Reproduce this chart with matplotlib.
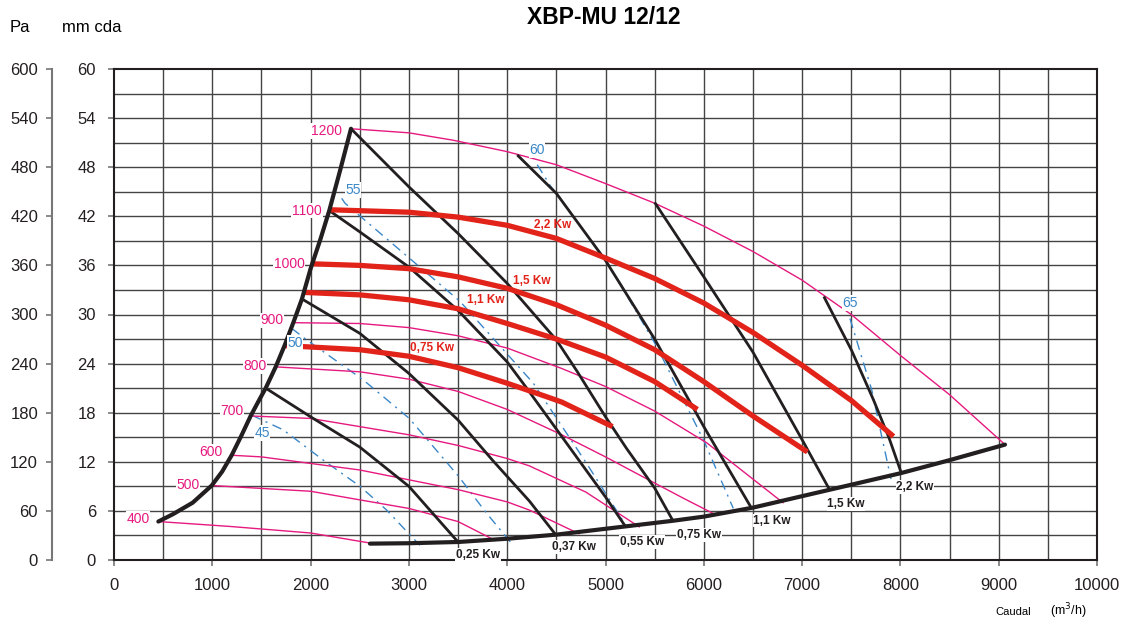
import numpy as np
import matplotlib
matplotlib.use("Agg")
import matplotlib.pyplot as plt

plt.rcParams['font.family'] = ['Liberation Sans', 'DejaVu Sans']

# Colours taken from the chart
BLACK = '#231f20'
PINK = '#e6197f'
RED = '#e2231a'
BLUE = '#3a87c8'

# Operating limits (thick black): left surge line and bottom system curve
left_q = [451, 600, 800, 994, 1100, 1197, 1300, 1390, 1470, 1543, 1645, 1735, 1824, 1912,
          2000, 2100, 2190, 2300, 2411]
left_p = [4.7, 5.6, 7.0, 9.1, 10.8, 12.8, 15.3, 17.6, 19.4, 21.0, 23.6, 26.2, 29.0, 31.9,
          35.6, 39.2, 42.7, 47.6, 52.7]
bottom_q = [2604, 3000, 3500, 4000, 4500, 5200, 5690, 6000, 6500, 7000, 7500, 8000, 8500, 9064]
bottom_p = [2.0, 2.05, 2.2, 2.6, 3.1, 4.1, 4.8, 5.3, 6.4, 7.8, 9.2, 10.6, 12.2, 14.1]

# Motor power lines (black) ending on the bottom curve
motor_labels = ['0,25 Kw', '0,37 Kw', '0,55 Kw', '0,75 Kw', '1,1 Kw', '1,5 Kw', '2,2 Kw']
motor_q = [
    [1543, 2000, 2500, 3000, 3500],
    [1912, 2500, 3000, 3500, 3850, 4226, 4493],
    [2190, 2500, 3000, 3500, 4000, 4186, 4500, 5000, 5203],
    [2411, 3000, 3500, 4000, 4500, 4714, 5000, 5216, 5500, 5686],
    [4102, 4500, 5000, 5500, 6000, 6482],
    [5500, 6000, 6500, 7000, 7279],
    [7221, 7504, 7725, 7885, 8010],
]
motor_p = [
    [21.0, 17.5, 13.8, 9.0, 2.2],
    [31.9, 27.7, 22.8, 17.1, 12.2, 7.2, 3.1],
    [42.7, 40.1, 35.8, 30.5, 24.2, 21.2, 16.0, 7.7, 4.1],
    [52.7, 45.6, 39.9, 33.8, 26.9, 23.0, 17.5, 13.6, 8.8, 4.8],
    [49.5, 44.8, 36.6, 27.0, 16.3, 6.4],
    [43.7, 34.6, 25.4, 14.7, 8.6],
    [32.2, 25.6, 19.6, 14.9, 10.6],
]

# Fan curves at motor power (red)
red_labels = ['0,75 Kw', '1,1 Kw', '1,5 Kw', '2,2 Kw']
red_q = [
    [1735, 2500, 3000, 3500, 4000, 4390, 4555, 5071],
    [1936, 2500, 3000, 3500, 4000, 4500, 5000, 5500, 5935],
    [2001, 2500, 3000, 3500, 4000, 4500, 5000, 5500, 6000, 6500, 7054],
    [2190, 3000, 3500, 4000, 4500, 5000, 5500, 6000, 6500, 7000, 7500, 7930],
]
red_p = [
    [26.2, 25.7, 24.9, 23.5, 21.6, 20.0, 19.3, 16.3],
    [32.7, 32.4, 31.8, 30.7, 28.9, 27.0, 24.8, 21.8, 18.4],
    [36.2, 36.0, 35.6, 34.6, 33.2, 31.2, 28.7, 25.7, 21.8, 17.6, 13.2],
    [42.8, 42.5, 41.9, 40.9, 39.3, 36.9, 34.4, 31.4, 27.8, 23.8, 19.5, 15.1],
]

# Speed curves (pink), rpm
rpm_labels = ['400', '500', '600', '700', '800', '900', '1200']
rpm_q = [
    [451, 1180, 2000, 2640],
    [994, 2000, 3000, 3500, 3876],
    [1197, 1500, 2500, 3500, 4000, 4226, 4731],
    [1390, 2000, 3000, 3500, 4000, 4226, 4800, 5343],
    [1645, 2500, 3000, 3500, 4000, 4555, 5000, 5500, 5800, 6126],
    [1824, 2500, 3000, 3500, 4000, 4555, 5000, 5500, 6032, 6806],
    [2411, 3000, 3449, 4000, 4500, 5000, 5500, 6000, 6500, 7000, 7500, 8000, 8500, 9064],
]
rpm_p = [
    [4.7, 4.1, 3.3, 2.0],
    [9.1, 8.4, 6.3, 4.7, 2.4],
    [12.8, 12.6, 11.0, 8.6, 7.1, 6.1, 3.2],
    [17.6, 17.3, 15.3, 14.0, 12.4, 11.5, 8.3, 4.05],
    [23.6, 23.0, 22.1, 20.6, 18.4, 15.3, 12.6, 9.4, 7.5, 5.5],
    [29.0, 28.9, 28.4, 27.4, 25.9, 23.4, 21.2, 18.2, 14.3, 7.0],
    [52.7, 52.2, 51.3, 49.9, 48.3, 46.0, 43.6, 40.8, 37.7, 34.2, 30.0, 25.0, 20.2, 14.1],
]

# Efficiency lines (blue dash-dot), %
eff_labels = ['45', '50', '55', '60', '65']
eff_q = [
    [1401, 1722, 2129, 2503, 2774, 3028, 3113],
    [1808, 1960, 2536, 3004, 3507, 3791, 4046],
    [2316, 2350, 3520, 4266, 4808, 5215],
    [4306, 4435, 5012, 5521, 6000, 6300],
    [7487, 7708, 7810, 7904],
]
eff_p = [
    [17.7, 15.9, 12.2, 9.0, 6.1, 2.85, 1.8],
    [28.3, 26.9, 22.0, 17.3, 10.2, 5.7, 2.0],
    [44.2, 43.6, 31.6, 21.6, 11.8, 4.1],
    [48.3, 45.8, 36.5, 26.1, 14.6, 6.3],
    [29.5, 20.8, 15.1, 9.9],
]

fig = plt.figure(figsize=(11.3, 6.22), dpi=100)
ax = fig.add_axes([114 / 1130, 62 / 622, 983 / 1130, 491 / 622])

ax.set_xlim(0, 10000)
ax.set_ylim(0, 60)

# grid
for xv in np.arange(500, 10000, 500):
    ax.axvline(xv, color='#444444', lw=1.0, zorder=1)
for yv in np.arange(3, 60, 3):
    ax.axhline(yv, color='#444444', lw=1.0, zorder=1)

# efficiency lines
for q, p in zip(eff_q, eff_p):
    ax.plot(q, p, color=BLUE, lw=1.0, ls=(0, (7, 4, 1.5, 4)), zorder=2)

# rpm curves
for q, p in zip(rpm_q, rpm_p):
    ax.plot(q, p, color=PINK, lw=1.0, zorder=3)

# motor lines
for q, p in zip(motor_q, motor_p):
    ax.plot(q, p, color=BLACK, lw=2.0, zorder=4, solid_capstyle='butt', solid_joinstyle='round')

# red power curves
for q, p in zip(red_q, red_p):
    ax.plot(q, p, color=RED, lw=3.8, zorder=5, solid_capstyle='butt', solid_joinstyle='round')

# limits
ax.plot(left_q, left_p, color=BLACK, lw=3.0, zorder=6, solid_capstyle='round', solid_joinstyle='round')
ax.plot(bottom_q, bottom_p, color=BLACK, lw=3.0, zorder=6, solid_capstyle='round', solid_joinstyle='round')

# labels
box = dict(facecolor='white', edgecolor='none', pad=0.5)
rpm_text = [('400', 244, 5.0), ('500', 753, 9.2), ('600', 987, 13.2), ('700', 1200, 18.2),
            ('800', 1434, 23.7), ('900', 1607, 29.3), ('1000', 1780, 36.2),
            ('1100', 1963, 42.7), ('1200', 2157, 52.4)]
for s, x, y in rpm_text:
    ax.text(x, y, s, color=PINK, fontsize=10, ha='center', va='center', bbox=box, zorder=8)

eff_text = [('45', 1506, 15.5), ('50', 1841, 26.5), ('55', 2431, 45.2),
            ('60', 4303, 50.1), ('65', 7487, 31.4)]
for s, x, y in eff_text:
    ax.text(x, y, s, color=BLUE, fontsize=10, ha='center', va='center', bbox=box, zorder=8)

red_pos = [(3235, 25.9), (3784, 31.8), (4252, 34.1), (4466, 40.9)]
for s, (x, y) in zip(red_labels, red_pos):
    ax.text(x, y, s, color=RED, fontsize=8.5, fontweight='bold', ha='center', va='center', zorder=8)

motor_pos = [(3703, 0.6), (4680, 1.6), (5371, 2.2), (5951, 3.05), (6694, 4.8), (7447, 6.85), (8149, 8.9)]
for s, (x, y) in zip(motor_labels, motor_pos):
    ax.text(x, y, s, color=BLACK, fontsize=8.5, fontweight='bold', ha='center', va='center',
            bbox=box, zorder=8)

# axes styling
for sp in ax.spines.values():
    sp.set_color(BLACK)
    sp.set_linewidth(1.5)
    sp.set_zorder(7)
ax.set_xticks(np.arange(0, 10001, 1000))
ax.set_yticks(np.arange(0, 61, 6))
ax.tick_params(axis='both', colors='#777777', labelcolor=BLACK, labelsize=12, length=4, width=1.2)
ax.tick_params(axis='x', pad=9)
ax.tick_params(axis='y', pad=9)

pa = ax.secondary_yaxis(-0.0631, functions=(lambda v: v * 10, lambda v: v / 10))
pa.set_yticks(np.arange(0, 601, 60))
pa.spines['left'].set_color('#777777')
pa.spines['left'].set_linewidth(1.5)
pa.tick_params(colors='#777777', labelcolor=BLACK, labelsize=12, length=4, width=1.2, pad=6)

fig.text(10 / 1130, 1 - 27 / 622, 'Pa', fontsize=12, va='center', ha='left')
fig.text(62 / 1130, 1 - 27 / 622, 'mm cda', fontsize=12, va='center', ha='left')
fig.text(604 / 1130, 1 - 17 / 622, 'XBP-MU 12/12', fontsize=16.5, fontweight='bold',
         va='center', ha='center')
fig.text(995 / 1130, 1 - 612 / 622, 'Caudal', fontsize=8, va='center', ha='left')
fig.text(1050 / 1130, 1 - 611 / 622, '(m$^3$/h)', fontsize=9, va='center', ha='left')

fig.savefig('out.png', dpi=100)
